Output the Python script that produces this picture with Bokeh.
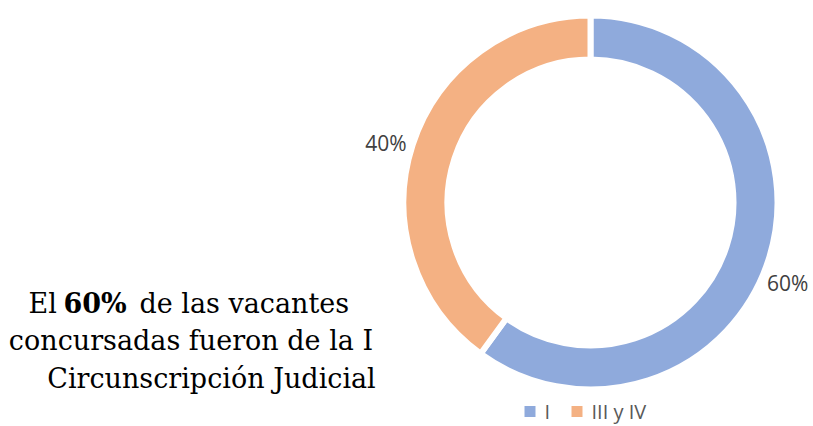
import math
from bokeh.plotting import figure
from bokeh.models import Range1d, ColumnDataSource
from bokeh.core.properties import value
from bokeh.embed import file_html
from bokeh.resources import INLINE

categories = ["I", "III y IV"]
shares = [60, 40]
colors = ["#8FAADC", "#F4B183"]
label_texts = ["60%", "40%"]

W, H = 811, 424
p = figure(width=W, height=H, output_backend="svg", toolbar_location=None,
           x_range=Range1d(0, W), y_range=Range1d(426 - H, 426),
           min_border=0)
p.axis.visible = False
p.grid.visible = False
p.outline_line_color = None
p.background_fill_color = None
p.border_fill_color = "white"

def sy(y):
    return 426 - y

cx, cy = 590, sy(202)
r_out, r_in = 187, 143

total = sum(shares)
starts, ends, mids = [], [], []
a = math.pi / 2
for s in shares:
    sweep = 2 * math.pi * s / total
    starts.append(a)
    ends.append(a - sweep)
    mids.append(a - sweep / 2)
    a -= sweep

src = ColumnDataSource(dict(x=[cx] * len(shares), y=[cy] * len(shares),
                            start=starts, end=ends, color=colors, cat=categories))
p.annular_wedge(x="x", y="y", inner_radius=r_in, outer_radius=r_out,
                start_angle="start", end_angle="end", direction="clock",
                fill_color="color", line_color="white", line_width=6, source=src)

# data labels, placed outside each slice near its middle angle
lab_r = 213
lab_adj = [-0.075, 0.03]
lx = [cx + lab_r * math.cos(m + d) for m, d in zip(mids, lab_adj)]
ly = [cy + lab_r * math.sin(m + d) for m, d in zip(mids, lab_adj)]
p.text(x=lx, y=ly, text=label_texts, text_align="center", text_baseline="middle",
       text_font=value("Open Sans"), text_font_size="21px", text_color="#404040")

# legend
leg_y = sy(411)
leg_sq_x = [529.5, 576.5]
leg_tx_x = [544, 591]
p.scatter(x=leg_sq_x, y=[leg_y] * 2, marker="square", size=11, fill_color=colors,
          line_color=None)
p.text(x=leg_tx_x, y=[leg_y] * 2, text=categories, text_align="left",
       text_baseline="middle", text_font=value("Open Sans"), text_font_size="20px",
       text_color="#595959")

# annotation text
serif = value("DejaVu Serif")
p.text(x=[28, 139], y=[sy(303)] * 2, text=["El", "de las vacantes"],
       text_align="left", text_baseline="alphabetic",
       text_font=serif, text_font_size="27px", text_color="black")
p.text(x=[63], y=[sy(303)], text=["60%"], text_align="left",
       text_baseline="alphabetic", text_font=serif, text_font_style="bold",
       text_font_size="27px", text_color="black")
p.text(x=[190.5, 211], y=[sy(340), sy(378)],
       text=["concursadas fueron de la I", "Circunscripción Judicial"],
       text_align="center", text_baseline="alphabetic",
       text_font=serif, text_font_size="27px", text_color="black")

with open("out.html", "w") as f:
    f.write(file_html(p, INLINE))
